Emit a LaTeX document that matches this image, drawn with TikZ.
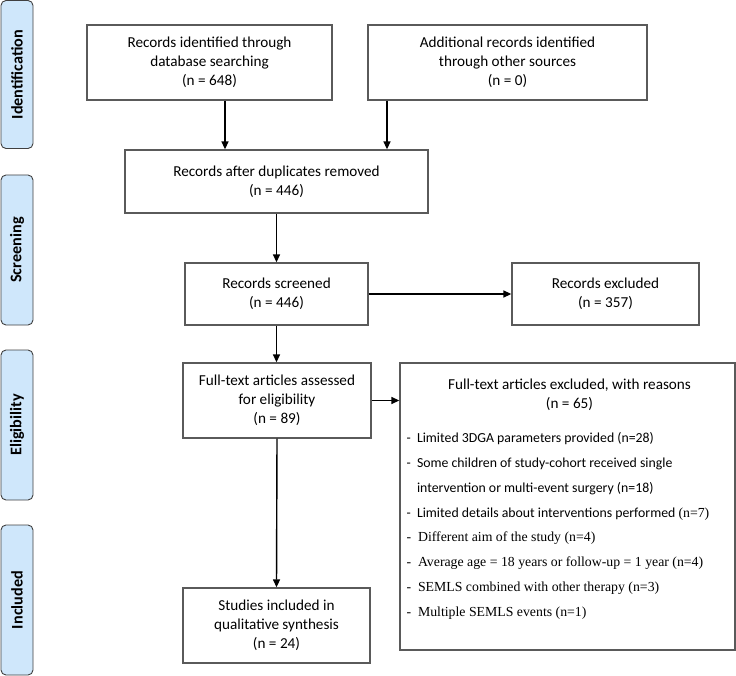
\documentclass[tikz,border=0pt]{standalone}
\usepackage{fontspec}
\setmainfont{Carlito}
\newfontfamily\tmsfont{Liberation Serif}
\usetikzlibrary{arrows.meta,calc}
\definecolor{sidefill}{RGB}{207,231,251}
\definecolor{sideline}{RGB}{64,64,64}
\definecolor{boxline}{RGB}{90,90,90}
\begin{document}
\begin{tikzpicture}[x=1pt,y=-1pt,
  box/.style={draw=boxline,line width=1.3pt,fill=white,align=center,inner sep=0pt,
    font=\fontsize{15.2}{19.2}\selectfont},
  side/.style={draw=sideline,line width=0.9pt,fill=sidefill,rounded corners=5pt,
    minimum width=32pt,minimum height=148pt,inner sep=0pt},
  sidetext/.style={rotate=90,font=\fontsize{16.2}{18}\bfseries\selectfont},
  arr/.style={line width=1.4pt,-{Triangle[length=8pt,width=7pt]}}]
\useasboundingbox (0,0) rectangle (736,676);
% side labels
\node[side] (sid) at (17,74.5) {};
\node[sidetext] (sidt) at (sid.center) {Identification};
\node[side,minimum height=150pt] (sscr) at (17,250) {};
\node[sidetext] (sscrt) at (sscr.center) {Screening};
\node[side,minimum height=150pt] (selig) at (17,425) {};
\node[sidetext] (seligt) at (selig.center) {Eligibility};
\node[side,minimum height=150pt] (sinc) at (17,600) {};
\node[sidetext] (sinct) at (sinc.center) {Included};
% boxes
\node[box,minimum width=245pt,minimum height=75pt] (db) at (209.5,62.5)
  {Records identified through\\database searching\\(n = 648)};
\node[box,minimum width=279pt,minimum height=75pt] (other) at (507.5,62.5)
  {Additional records identified\\through other sources\\(n = 0)};
\node[box,minimum width=303pt,minimum height=63pt] (dup) at (276.5,181.5)
  {Records after duplicates removed\\(n = 446)};
\node[box,minimum width=183pt,minimum height=62pt] (scr) at (276.5,294)
  {Records screened\\(n = 446)};
\node[box,minimum width=187pt,minimum height=62pt] (exc) at (605.5,294)
  {Records excluded\\(n = 357)};
\node[box,minimum width=188pt,minimum height=75pt] (full) at (277,400.5)
  {Full-text articles assessed\\for eligibility\\(n = 89)};
\node[box,minimum width=187pt,minimum height=75pt] (stud) at (276.5,625.5)
  {Studies included in\\qualitative synthesis\\(n = 24)};
\node[box,minimum width=335pt,minimum height=287pt] (fexc) at (567.5,506.5) {};
\node[align=center,inner sep=0pt,font=\fontsize{15.2}{19}\selectfont,anchor=center] (fexch)
  at ($(fexc.north)+(2,32)$) {Full-text articles excluded, with reasons\\(n = 65)};
\node[align=left,inner sep=0pt,anchor=north west,font=\fontsize{13.8}{24.8}\selectfont] (fexcl)
  at ($(fexc.north west)+(7,70)$)
  {- \ Limited 3DGA parameters provided (n=28)\\
   - \ Some children of study-cohort received single\\
   \hphantom{- \ }intervention or multi-event surgery (n=18)\\
   - \ Limited details about interventions performed {\tmsfont (n=7)}\\
   {\tmsfont - \ Different aim of the study (n=4)}\\
   {\tmsfont - \ Average age = 18 years or follow-up = 1 year (n=4)}\\
   {\tmsfont - \ SEMLS combined with other therapy (n=3)}\\
   {\tmsfont - \ Multiple SEMLS events (n=1)}};
% arrows
\coordinate (c1) at (225,0);
\coordinate (c2) at (387,0);
\draw[arr] (db.south -| c1) -- (dup.north -| c1);
\draw[arr] (other.south -| c2) -- (dup.north -| c2);
\draw[arr] (dup.south) -- (scr.north);
\draw[arr] (scr.east) -- (exc.west);
\draw[arr] (scr.south) -- (scr.south |- full.north);
\draw[arr] (full.east) -- (full.east -| fexc.west);
\draw[arr] (full.south) -- (stud.north);
\end{tikzpicture}
\end{document}
